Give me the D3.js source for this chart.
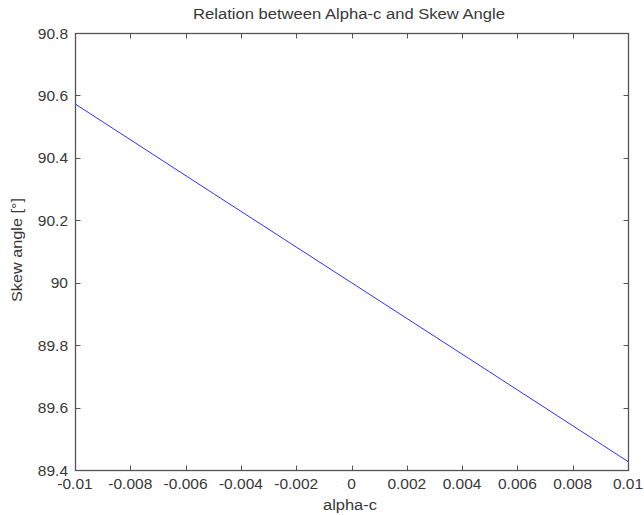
<!DOCTYPE html>
<html>
<head>
<meta charset="utf-8">
<script src="https://cdn.jsdelivr.net/npm/d3@7"></script>
<style>
  html, body { margin: 0; padding: 0; background: #fff; }
  svg { display: block; }
  text { font-family: "Liberation Sans", Arial, Helvetica, sans-serif; fill: #383838; }
</style>
</head>
<body>
<svg id="chart" width="644" height="515"></svg>
<script>
// Skew angle against alpha-c
const alphaC = [-0.01, -0.005, 0, 0.005, 0.01];
const skewAngle = [90.573, 90.286, 90, 89.714, 89.427];

const xTicks = [-0.01, -0.008, -0.006, -0.004, -0.002, 0, 0.002, 0.004, 0.006, 0.008, 0.01];
const xTickLabels = ["-0.01", "-0.008", "-0.006", "-0.004", "-0.002", "0", "0.002", "0.004", "0.006", "0.008", "0.01"];
const yTicks = [89.4, 89.6, 89.8, 90, 90.2, 90.4, 90.6, 90.8];
const yTickLabels = ["89.4", "89.6", "89.8", "90", "90.2", "90.4", "90.6", "90.8"];

const titleText = "Relation between Alpha-c and Skew Angle";
const xLabelText = "alpha-c";
const yLabelText = "Skew angle [°]";

const plotLeft = 75, plotRight = 628, plotTop = 33, plotBottom = 470;
const svg = d3.select("#chart");

const x = d3.scaleLinear().domain([-0.01, 0.01]).range([plotLeft, plotRight]);
const y = d3.scaleLinear().domain([89.4, 90.8]).range([plotBottom, plotTop]);

const axisColor = "#555";
const tickLen = 5;

// frame
svg.append("rect")
  .attr("x", plotLeft + 0.5).attr("y", plotTop + 0.5)
  .attr("width", plotRight - plotLeft).attr("height", plotBottom - plotTop)
  .attr("fill", "none").attr("stroke", axisColor).attr("stroke-width", 1.3);

// x ticks (inward, bottom and top)
const xg = svg.append("g");
xTicks.forEach((t, i) => {
  const px = Math.round(x(t)) + 0.5;
  xg.append("line").attr("x1", px).attr("x2", px).attr("y1", plotBottom + 0.5).attr("y2", plotBottom + 0.5 - tickLen)
    .attr("stroke", axisColor);
  xg.append("line").attr("x1", px).attr("x2", px).attr("y1", plotTop + 0.5).attr("y2", plotTop + 0.5 + tickLen)
    .attr("stroke", axisColor);
  xg.append("text").attr("x", x(t)).attr("y", 489)
    .attr("text-anchor", "middle").attr("font-size", 15.5)
    .text(xTickLabels[i]);
});

// y ticks (inward, left and right)
const yg = svg.append("g");
yTicks.forEach((t, i) => {
  const py = Math.round(y(t)) + 0.5;
  yg.append("line").attr("x1", plotLeft + 0.5).attr("x2", plotLeft + 0.5 + tickLen).attr("y1", py).attr("y2", py)
    .attr("stroke", axisColor);
  yg.append("line").attr("x1", plotRight + 0.5).attr("x2", plotRight + 0.5 - tickLen).attr("y1", py).attr("y2", py)
    .attr("stroke", axisColor);
  yg.append("text").attr("x", 68).attr("y", y(t)).attr("dy", "0.36em")
    .attr("text-anchor", "end").attr("font-size", 15.5)
    .text(yTickLabels[i]);
});

// data line
const line = d3.line().x((d, i) => x(alphaC[i])).y(d => y(d));
svg.append("path")
  .datum(skewAngle)
  .attr("d", line)
  .attr("fill", "none")
  .attr("stroke", "#3030ff")
  .attr("stroke-width", 1);

// title and axis labels (slightly widened lettering)
svg.append("text").attr("x", 349).attr("y", 19)
  .attr("text-anchor", "middle").attr("font-size", 14)
  .attr("textLength", 312).attr("lengthAdjust", "spacingAndGlyphs")
  .text(titleText);
svg.append("text").attr("x", 350).attr("y", 510)
  .attr("text-anchor", "middle").attr("font-size", 14)
  .attr("textLength", 54).attr("lengthAdjust", "spacingAndGlyphs")
  .text(xLabelText);
svg.append("text")
  .attr("transform", `translate(22,250) rotate(-90)`)
  .attr("text-anchor", "middle").attr("font-size", 14)
  .attr("textLength", 104).attr("lengthAdjust", "spacingAndGlyphs")
  .text(yLabelText);
</script>
</body>
</html>
